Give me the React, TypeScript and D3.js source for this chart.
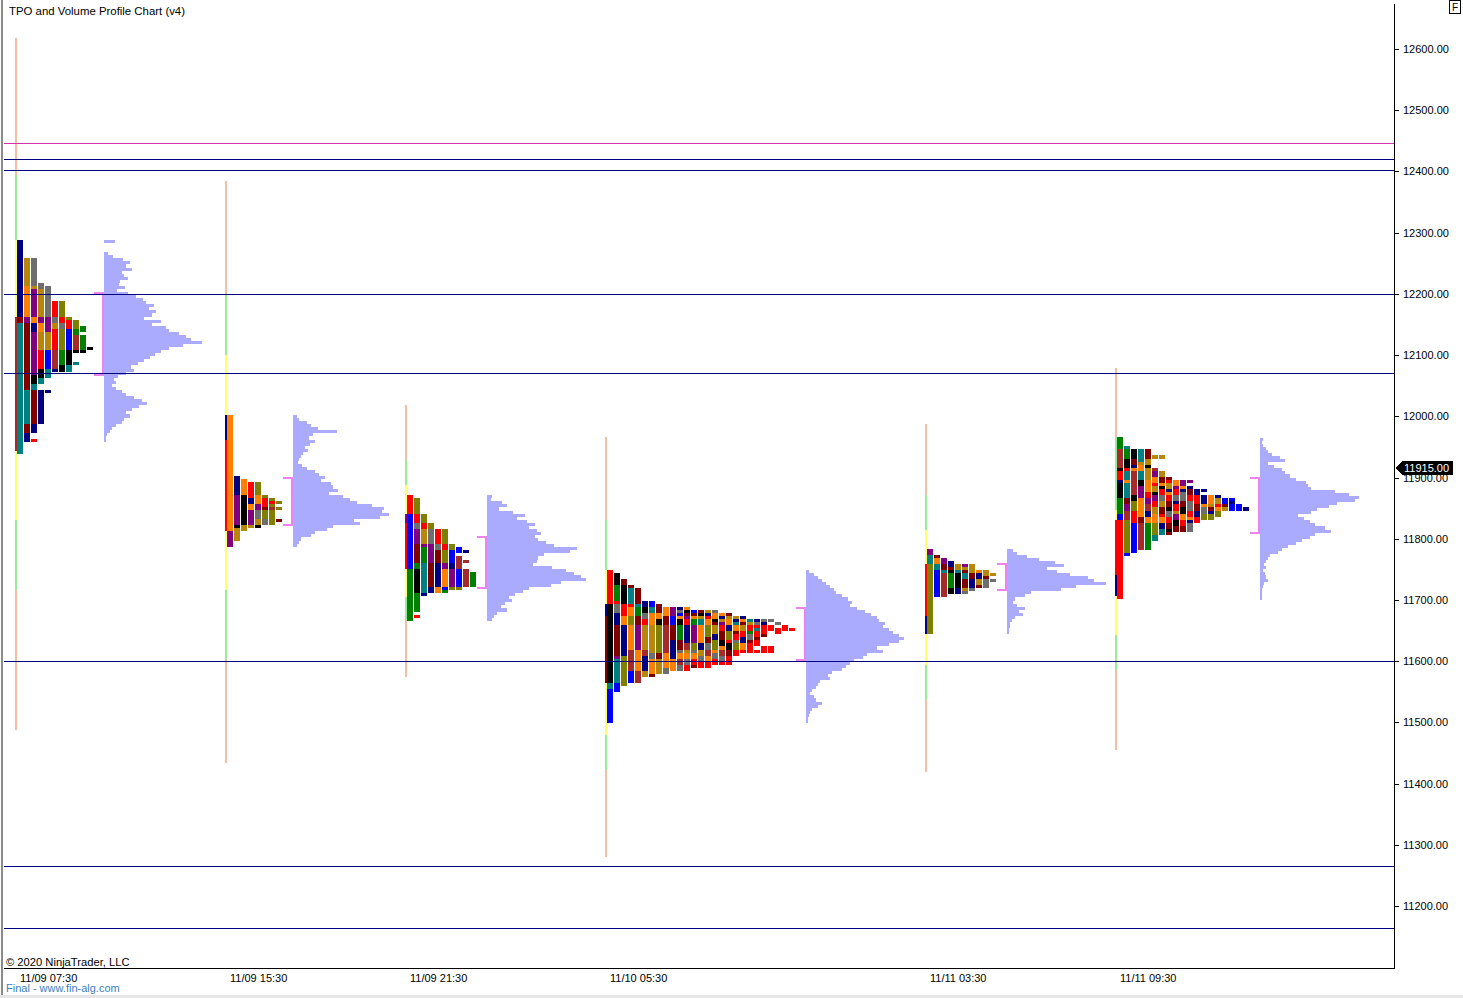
import React from 'react';
import * as d3 from 'd3';

// ---------------- DATA ----------------
const PRICE_TICKS = [11200, 11300, 11400, 11500, 11600, 11700, 11800, 11900, 12000, 12100, 12200, 12300, 12400, 12500, 12600];
const SESSION_LABELS = ['11/09 07:30', '11/09 15:30', '11/09 21:30', '11/10 05:30', '11/11 03:30', '11/11 09:30'];
const SESSION_SLOTS = [1, 22, 40, 60, 92, 111];
const SESSION_HIGHS = [12288, 12002, 11871, 11749, 11784, 11966];
const VP_TOPS = [12288, 12002, 11871, 11749, 11784, 11965];
const VALUE_AREAS = [[12201, 12067], [11899, 11822], [11803, 11719], [11687, 11602], [11759, 11716], [11899, 11809]];
const LAST_PRICE = 11915;

const LEVEL_LINES = [
  { price: 12446, kind: 'm' },
  { price: 12420, kind: 'n' },
  { price: 12402, kind: 'n' },
  { price: 12200, kind: 'n' },
  { price: 12071, kind: 'n' },
  { price: 11600, kind: 'n' },
  { price: 11265, kind: 'n' },
  { price: 11164, kind: 'n' },
];

// range lines [top, bottom, kind]  s = extension, g = initial balance, y = value range
const S1_RANGE: [number, number, string][] = [[12618, 12394, 's'], [12394, 12288, 'g'], [12288, 11831, 'y'], [11831, 11716, 'g'], [11716, 11487, 's']];
const S2_RANGE: [number, number, string][] = [[12384, 12198, 's'], [12198, 12100, 'g'], [12100, 11716, 'y'], [11716, 11602, 'g'], [11602, 11434, 's']];
const S3_RANGE: [number, number, string][] = [[12018, 11929, 's'], [11929, 11888, 'g'], [11888, 11705, 'y'], [11705, 11667, 'g'], [11667, 11574, 's']];
const S4_RANGE: [number, number, string][] = [[11966, 11831, 's'], [11831, 11749, 'g'], [11749, 11479, 'y'], [11479, 11422, 'g'], [11422, 11280, 's']];
const S5_RANGE: [number, number, string][] = [[11987, 11871, 's'], [11871, 11814, 'g'], [11814, 11594, 'y'], [11594, 11536, 'g'], [11536, 11419, 's']];
const S6_RANGE: [number, number, string][] = [[12079, 11966, 's'], [11966, 11847, 'g'], [11847, 11643, 'y'], [11643, 11585, 'g'], [11585, 11455, 's']];

// TPO columns: run-length period codes, one unit = 5 points below session high, x = empty
const S1_STRIP = 'x25W44';
const S1_TPO = [
  'N25M2T43',
  'x6G9O10P2M22T11M3N3',
  'x6Y9G1P9O2N3P14K3T2M11N3x2R1',
  'x14Y2G9P2O3G6R6K3T2x2N11',
  'x15Y10P5G6B6T3x4N1',
  'x20R5Y2G2R7W6N1',
  'x20L5R2Y2L7E5K2',
  'x25L1R3B7K5T2',
  'x26L3E2W5K1x3T1',
  'x28E2x1E5K1',
  'x35K1',
];
const S2_STRIP = 'N8R30';
const S2_TPO = [
  'O38P5',
  'x20N6P10K1G4',
  'x21O5K10G2',
  'x22R5N2O2P5G1',
  'x22L4O3P2Y3G2K1',
  'x26L1R3M1L3Y2',
  'x27L1R1L1W1L5',
  'x28L1x1L1x3M1',
];
const S3_STRIP = 'x6P3R15';
const S3_TPO = [
  'R6B18E17',
  'x1L5R3Y2P5M6E2K8E6x1R1',
  'x6L3R2G5P1E5T10N1',
  'x9L2Y5P6M8N2',
  'x11R5Y2M4N8O2',
  'x11L5R2L4P2O6B1E1',
  'x16L2B4N2P6L1',
  'x17B2x1W4B6L1',
  'x18N1x2W1x2W6',
  'x25E5',
];
const S4_STRIP = 'x11N4M22';
const S4_TPO = [
  'R11K26T2B11',
  'x1K4E5R1Y3N4M10P1T8B3',
  'x3M2K6R4O3N10L10',
  'x5M1T5R1O3L3O8W7B4',
  'x6M5T1E3M3P8O7W4',
  'x10N2K2Y2R2G8W2N5G2',
  'x10B2T2O4G9Y2O5M1',
  'x11M3O2K2L9M2G5',
  'x12O3M3W9O5Y2',
  'x12P3B3M5N6O4',
  'x12N1Y1B1O1K2E5M3Y1O2W2Y2',
  'x12O1K1M1P1R2N6W2G1O2Y2R2',
  'x13B1M1O1E2P6L2Y1O2R2M1',
  'x13M1K1G1T2O6N2G2Y2R2',
  'x13G1N1R1O2L4M2Y2W2O2R2',
  'x13Y1O2K1M1G3N2L3O1Y2R2',
  'x14O1N1G1P1R2M3K2O1W2Y2R1',
  'x14M1G1O2N2L3R1K2M2R3',
  'x15G1N1T1O2M1R2Y1L2R2',
  'x15N1O1M1G2R2N2O2R1',
  'x16T1G1R2E1Y2M1R3',
  'x16N1Y1R1T1R2M1R2x1R1',
  'x16Y1N1R2R1M1x3R2',
  'x16Y1x1R2x5R2',
  'x17Y1x1R2',
  'x18R2',
  'x19R1',
];
const S5_STRIP = 'x5R17N6';
const S5_TPO = [
  'P2T3L23',
  'x2M1O2T2B9',
  'x3P2M2T1W8',
  'x4N2M1K1E5K2',
  'x5G2T1K5N2',
  'x5P1G1M1T2M3G1Y1',
  'x5G3M2N3Y1',
  'x7O1N2G2M1',
  'x7G2M1Y3',
  'x8G1x1Y1',
];
const S6_STRIP = 'x27R18N7';
const S6_TPO = [
  'E4W6K1R3N1K5E5B2R26',
  'x3T1E3K3R1T3O1T5M2P2W3L11B1',
  'x4K3M2N1O1W8K2L3R4B10',
  'x4T4G1O2T3K2P4O6M2W9',
  'x4M3G2K1G4O4R2P2W2N2O2E9',
  'x6G1x3W1P2O2R1G2K1P2R2G2O3L4T2',
  'x6G1x4G2M2O1K1R2Y2G2M2R1O2N2T2',
  'x13M1R1G2N1O1R2M2K1Y2R2M2K1M1',
  'x14O2P1R2Y2N1R2G1P2K2M2',
  'x14P2O1N1Y3M2K2O2R2M2',
  'x14P1x1N1M2R2Y3R2O1N1Y3',
  'x17N2R3M2N2R2',
  'x17N1x1N3O1Y2L2',
  'x19O3G1M1N1L2',
  'x19N1G2R1O1L2',
  'x20B2M1G1',
  'x20B1N1B2',
  'x22B2',
  'x23N1',
];

// volume profiles, relative volume per 5-point row from the top price down
const S1_VP = [11, 0, 0, 0, 4, 9, 19, 26, 22, 28, 18, 20, 24, 16, 15, 21, 13, 24, 32, 39, 42, 50, 45, 53, 48, 40, 58, 48, 63, 66, 76, 83, 88, 99, 80, 66, 58, 52, 46, 40, 34, 27, 30, 22, 14, 10, 12, 8, 12, 18, 22, 30, 38, 43, 35, 28, 22, 26, 20, 18, 12, 8, 6, 3, 2, 2];
const S2_VP = [4, 6, 14, 18, 25, 44, 20, 16, 22, 17, 12, 15, 10, 8, 6, 5, 9, 14, 22, 26, 32, 28, 38, 40, 45, 36, 50, 58, 65, 80, 92, 90, 97, 88, 62, 68, 40, 34, 22, 18, 8, 6, 4];
const S3_VP = [5, 4, 15, 20, 12, 26, 38, 30, 40, 48, 42, 50, 55, 48, 52, 60, 68, 91, 84, 58, 52, 50, 46, 66, 80, 88, 95, 100, 75, 65, 42, 36, 28, 22, 25, 18, 14, 20, 10, 7, 5];
const S4_VP = [3, 8, 12, 16, 20, 24, 28, 30, 36, 42, 46, 44, 52, 60, 66, 72, 74, 80, 78, 84, 88, 94, 99, 94, 84, 72, 78, 62, 58, 48, 44, 40, 36, 26, 22, 24, 14, 12, 10, 6, 4, 8, 10, 16, 12, 6, 4, 3, 2, 2];
const S5_VP = [6, 10, 20, 32, 48, 58, 40, 50, 64, 82, 88, 100, 70, 55, 24, 18, 8, 6, 10, 18, 12, 16, 8, 5, 3, 3, 2, 2];
const S6_VP = [3, 2, 3, 6, 8, 12, 20, 25, 8, 14, 22, 25, 30, 36, 46, 48, 52, 76, 90, 100, 96, 78, 70, 58, 52, 38, 44, 50, 56, 66, 72, 56, 50, 42, 36, 28, 22, 18, 10, 8, 6, 4, 6, 3, 5, 6, 8, 4, 3, 2, 2, 2, 2];

const SESSION_TPO = [S1_TPO, S2_TPO, S3_TPO, S4_TPO, S5_TPO, S6_TPO];
const SESSION_STRIP = [S1_STRIP, S2_STRIP, S3_STRIP, S4_STRIP, S5_STRIP, S6_STRIP];
const SESSION_RANGE = [S1_RANGE, S2_RANGE, S3_RANGE, S4_RANGE, S5_RANGE, S6_RANGE];
const SESSION_VP = [S1_VP, S2_VP, S3_VP, S4_VP, S5_VP, S6_VP];

// ---------------- STYLE ----------------
const W = 1463;
const H = 998;
const UNIT = 5;
const FONT = "Arial, 'Liberation Sans', sans-serif";
const TPO_COLORS: Record<string, string> = {
  N: '#000080', M: '#800000', T: '#008080', P: '#800080', G: '#b8860b', Y: '#6e6e6e',
  O: '#ff8000', R: '#ff0000', B: '#0000ff', E: '#008000', L: '#808000', K: '#000000', W: '#a52a2a',
};
const RANGE_COLORS: Record<string, string> = { s: '#f2bfa5', g: '#98ec98', y: '#ffff6a' };
const LEVEL_COLORS: Record<string, string> = { m: '#d633a8', n: '#000080' };

function parseRuns(s: string) {
  const out: { code: string; start: number; len: number }[] = [];
  const re = /([A-Za-z])(\d+)/g;
  let m: RegExpExecArray | null;
  let pos = 0;
  while ((m = re.exec(s))) {
    const len = +m[2];
    if (m[1] !== 'x') out.push({ code: m[1], start: pos, len });
    pos += len;
  }
  return out;
}

export default function App() {
  const y = d3.scaleLinear().domain([11200, 12600]).range([906, 49]);
  const x = d3.scaleLinear().domain([0, 138.8]).range([6, 1394]);
  const vw = d3.scaleLinear().domain([0, 100]).range([0, 99]);
  const ry = (p: number) => Math.round(y(p));

  const sessions = SESSION_SLOTS.map((slot, si) => {
    const x0 = Math.round(x(slot));
    const high = SESSION_HIGHS[si];
    const cols = SESSION_TPO[si];
    const vpLeft = x0 + cols.length * 7 + 11;
    const els: React.ReactNode[] = [];
    SESSION_RANGE[si].forEach(([t, b, k], i) => {
      els.push(<rect key={`r${i}`} x={x0 - 1} y={ry(t)} width={2} height={ry(b) - ry(t)} fill={RANGE_COLORS[k]} />);
    });
    parseRuns(SESSION_STRIP[si]).forEach((r, i) => {
      const t = ry(high - r.start * UNIT);
      const b = ry(high - (r.start + r.len) * UNIT);
      els.push(<rect key={`s${i}`} x={x0 - 1} y={t} width={2} height={b - t} fill={TPO_COLORS[r.code]} />);
    });
    cols.forEach((c, ci) => {
      parseRuns(c).forEach((r, i) => {
        const t = ry(high - r.start * UNIT);
        const b = ry(high - (r.start + r.len) * UNIT);
        els.push(<rect key={`c${ci}_${i}`} x={x0 + 1 + ci * 7} y={t} width={6} height={Math.max(1, b - t)} fill={TPO_COLORS[r.code]} />);
      });
    });
    const vtop = VP_TOPS[si];
    SESSION_VP[si].forEach((v, i) => {
      if (v <= 0) return;
      const t = ry(vtop - i * UNIT);
      const b = ry(vtop - (i + 1) * UNIT);
      els.push(<rect key={`v${i}`} x={vpLeft} y={t} width={vw(v)} height={b - t} fill="#aaaaff" />);
    });
    const [vah, val] = VALUE_AREAS[si];
    const yt = ry(vah);
    const yb = ry(val);
    els.push(<rect key="b1" x={vpLeft - 2} y={yt - 1} width={2} height={yb - yt + 2} fill="#ee82ee" />);
    els.push(<rect key="b2" x={vpLeft - 10} y={yt - 1} width={10} height={2} fill="#ee82ee" />);
    els.push(<rect key="b3" x={vpLeft - 10} y={yb - 1} width={10} height={2} fill="#ee82ee" />);
    return { x0, els };
  });

  return (
    <svg width={W} height={H} style={{ position: 'absolute', left: 0, top: 0, background: '#fff' }} shapeRendering="crispEdges">
      <rect x={0} y={0} width={W} height={H} fill="#ffffff" />
      {sessions.map((s, i) => <g key={i}>{s.els}</g>)}
      {LEVEL_LINES.map((l, i) => (
        <rect key={i} x={4} width={1390} y={ry(l.price)} height={1} fill={LEVEL_COLORS[l.kind]} />
      ))}
      <rect x={1} y={0} width={2} height={996} fill="#8a8a8a" />
      <rect x={1394} y={4} width={1} height={965} fill="#000" />
      <rect x={4} y={968} width={1391} height={1} fill="#000" />
      <rect x={0} y={995} width={W} height={3} fill="#e6e6e6" />
      {PRICE_TICKS.map((p) => (
        <g key={p}>
          <rect x={1394} y={ry(p)} width={5} height={1} fill="#000" />
          <text x={1403} y={ry(p)} dy="0.35em" fontSize={11} fontFamily={FONT} fill="#000" shapeRendering="auto">{p.toFixed(2)}</text>
        </g>
      ))}
      <path d={`M1395,${ry(LAST_PRICE)} L1402,${ry(LAST_PRICE) - 7} L1453,${ry(LAST_PRICE) - 7} L1453,${ry(LAST_PRICE) + 7} L1402,${ry(LAST_PRICE) + 7} Z`} fill="#000" />
      <text x={1404} y={ry(LAST_PRICE)} dy="0.35em" fontSize={11} fontFamily={FONT} fill="#fff">{LAST_PRICE.toFixed(2)}</text>
      {sessions.map((s, i) => (
        <text key={i} x={s.x0 + 4} y={982} fontSize={11} fontFamily={FONT} fill="#000">{SESSION_LABELS[i]}</text>
      ))}
      <text x={9} y={15} fontSize={11.4} fontFamily={FONT} fill="#000">TPO and Volume Profile Chart (v4)</text>
      <text x={6} y={966} fontSize={11.2} fontFamily={FONT} fill="#000">© 2020 NinjaTrader, LLC</text>
      <text x={6} y={992} fontSize={11} fontFamily={FONT} fill="#3c7fc0">Final - www.fin-alg.com</text>
      <rect x={1449.5} y={0.5} width={11} height={13} fill="#fff" stroke="#000" />
      <text x={1455} y={11} textAnchor="middle" fontSize={10} fontFamily={FONT} fill="#000">F</text>
    </svg>
  );
}
